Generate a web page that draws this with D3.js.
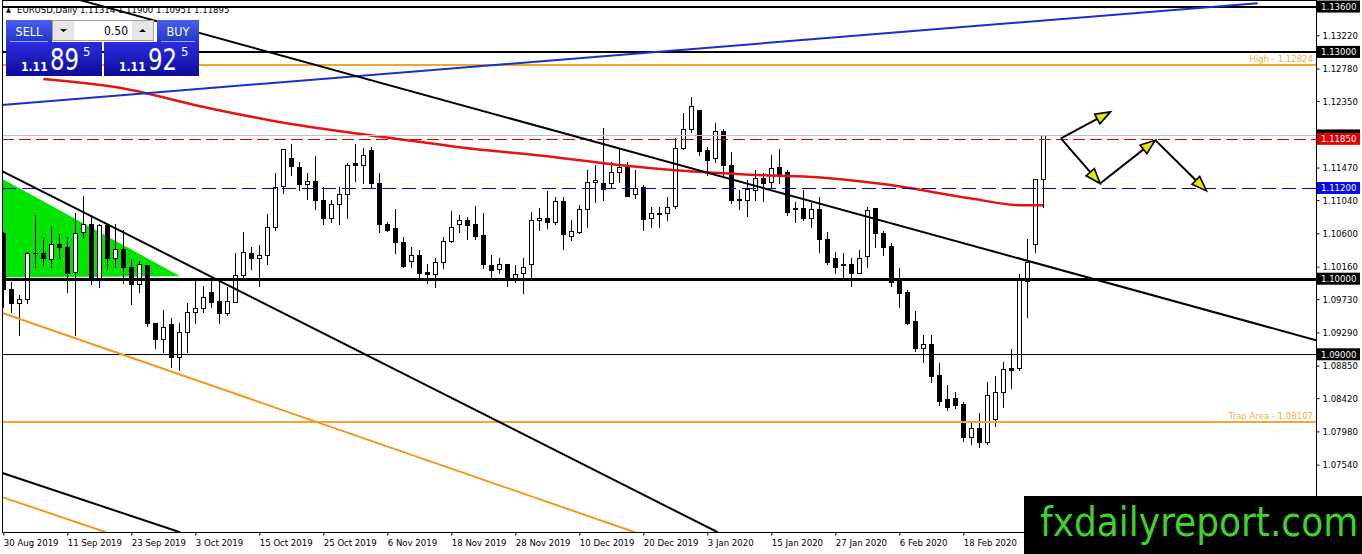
<!DOCTYPE html>
<html><head><meta charset="utf-8">
<script src="https://cdn.jsdelivr.net/npm/d3@7/dist/d3.min.js"></script>
<style>
html,body{margin:0;padding:0;background:#fff;overflow:hidden}
svg{display:block}
text{font-family:"DejaVu Sans Condensed","DejaVu Sans",sans-serif}
</style></head><body>
<svg id="c" width="1362" height="554"></svg>
<script>
// ---------------- DATA ----------------
const symbolTitle = "EURUSD,Daily";
const headerOHLC = ["1.11314","1.11900","1.10951","1.11895"];
const opens = [1.1060,1.0987,1.0968,1.0973,1.1034,1.1034,1.1026,1.1046,1.1042,1.1009,
1.1062,1.1073,1.1001,1.1071,1.1027,1.1039,1.1015,1.0993,1.1018,1.0941,
1.0920,1.0940,1.0896,1.0929,1.0956,1.0961,1.0982,1.0970,1.0954,1.0969,
1.1005,1.1034,1.1027,1.1031,1.1069,1.1122,1.1159,1.1148,1.1125,1.1129,
1.1104,1.1080,1.1099,1.1112,1.1153,1.1151,1.1170,1.1126,1.1073,1.1067,
1.1048,1.1024,1.1032,1.1009,1.1006,1.1022,1.1050,1.1072,1.1077,1.1073,
1.1058,1.1018,1.1013,1.1019,1.0998,1.1007,1.1020,1.1077,1.1080,1.1075,
1.1103,1.1056,1.1062,1.1092,1.1128,1.1126,1.1126,1.1141,1.1148,1.1112,
1.1121,1.1080,1.1087,1.1087,1.1096,1.1173,1.1198,1.1223,1.1170,1.1159,
1.1195,1.1151,1.1105,1.1104,1.1117,1.1133,1.1128,1.1148,1.1141,1.1093,
1.1093,1.1080,1.1092,1.1052,1.1027,1.1018,1.1020,1.1007,1.1030,1.1093,
1.1060,1.1043,1.0999,1.0982,1.0944,1.0908,1.0913,1.0872,1.0841,1.0842,
1.0834,1.0790,1.0803,1.0784,1.0814,1.0850,1.0882,1.0882,1.0997,1.1046,
1.11314];
const highs = [1.1062,1.0995,1.0978,1.1035,1.1084,1.1055,1.1068,1.1059,1.1055,1.1087,
1.1109,1.1084,1.1073,1.1073,1.1073,1.1065,1.1026,1.1024,1.1018,1.0942,
1.0958,1.0948,1.0942,1.0968,1.0999,1.0991,1.1002,1.1001,1.0989,1.1034,
1.1062,1.1042,1.1044,1.1085,1.1140,1.1171,1.1178,1.1155,1.1140,1.1162,
1.1121,1.1104,1.1121,1.1153,1.1178,1.1173,1.1174,1.1140,1.1075,1.1092,
1.1055,1.1042,1.1038,1.1019,1.1028,1.1055,1.1089,1.1084,1.1081,1.1096,
1.1087,1.1031,1.1027,1.1020,1.1018,1.1028,1.1088,1.1093,1.1116,1.1108,
1.1108,1.1077,1.1097,1.1144,1.1151,1.1199,1.1154,1.1173,1.1154,1.1144,
1.1124,1.1095,1.1095,1.1108,1.1186,1.1219,1.1240,1.1223,1.1174,1.1206,
1.1198,1.1167,1.1117,1.1130,1.1144,1.1140,1.1163,1.1171,1.1144,1.1101,
1.1117,1.1100,1.1108,1.1062,1.1035,1.1034,1.1027,1.1038,1.1095,1.1093,
1.1063,1.1047,1.1014,1.0985,1.0957,1.0925,1.0925,1.0888,1.0860,1.0850,
1.0837,1.0810,1.0822,1.0863,1.0871,1.0890,1.0907,1.1006,1.1052,1.1132,
1.11900];
const lows = [1.0962,1.0956,1.0925,1.0968,1.1015,1.1018,1.1015,1.1028,1.0983,1.0925,
1.1054,1.0993,1.0989,1.1014,1.1015,1.0994,1.0966,1.0982,1.0937,1.0908,
1.0903,1.0883,1.0879,1.0903,1.0941,1.0956,1.0962,1.0941,1.0952,1.0969,
1.1002,1.1013,1.0991,1.1020,1.1064,1.1114,1.1137,1.1117,1.1105,1.1092,
1.1072,1.1075,1.1073,1.1080,1.1129,1.1126,1.1121,1.1062,1.1063,1.1034,
1.1015,1.1015,1.1001,1.0994,1.0989,1.1014,1.1048,1.1062,1.1052,1.1052,
1.1014,1.1002,1.1007,1.0991,1.0995,1.0981,1.1001,1.1065,1.1067,1.1073,
1.1039,1.1051,1.1060,1.1068,1.1101,1.1104,1.1121,1.1128,1.1109,1.1107,
1.1065,1.1068,1.1068,1.1077,1.1093,1.1171,1.1194,1.1163,1.1137,1.1155,
1.1134,1.1100,1.1092,1.1083,1.1104,1.1103,1.1120,1.1126,1.1084,1.1075,
1.1077,1.1068,1.1035,1.1020,1.1007,1.0998,1.0991,1.1007,1.1015,1.1042,
1.1031,1.0991,1.0962,1.0940,1.0904,1.0890,1.0863,1.0833,1.0826,1.0829,
1.0785,1.0782,1.0777,1.0782,1.0805,1.0830,1.0855,1.0879,1.0949,1.1035,
1.10951];
const closes = [1.0987,1.0968,1.0973,1.1034,1.1034,1.1027,1.1046,1.1042,1.1007,1.1060,
1.1072,1.1001,1.1071,1.1027,1.1039,1.1015,1.0993,1.1019,1.0941,1.0920,
1.0936,1.0896,1.0929,1.0956,1.0961,1.0976,1.0969,1.0954,1.0970,1.1005,
1.1035,1.1027,1.1031,1.1069,1.1121,1.1171,1.1149,1.1125,1.1129,1.1104,
1.1080,1.1099,1.1112,1.1151,1.1151,1.1163,1.1126,1.1073,1.1064,1.1048,
1.1017,1.1032,1.1007,1.1006,1.1022,1.1050,1.1069,1.1077,1.1071,1.1056,
1.1020,1.1011,1.1019,1.0998,1.1006,1.1015,1.1077,1.1080,1.1075,1.1103,
1.1059,1.1063,1.1092,1.1128,1.1130,1.1118,1.1141,1.1148,1.1110,1.1120,
1.1079,1.1087,1.1085,1.1095,1.1173,1.1198,1.1228,1.1169,1.1157,1.1195,
1.1150,1.1104,1.1104,1.1118,1.1133,1.1126,1.1146,1.1137,1.1088,1.1092,
1.1080,1.1092,1.1052,1.1022,1.1015,1.1020,1.1007,1.1028,1.1091,1.1060,
1.1042,1.0995,1.0981,1.0942,1.0908,1.0913,1.0871,1.0838,1.0830,1.0833,
1.0790,1.0803,1.0784,1.0846,1.0850,1.0880,1.0879,1.0998,1.1022,1.1132,
1.11895];
const dateLabels = ["30 Aug 2019","11 Sep 2019","23 Sep 2019","3 Oct 2019","15 Oct 2019","25 Oct 2019",
"6 Nov 2019","18 Nov 2019","28 Nov 2019","10 Dec 2019","20 Dec 2019","3 Jan 2020","15 Jan 2020",
"27 Jan 2020","6 Feb 2020","18 Feb 2020"];
const barsPerLabel = 8;
const priceTicks = [1.1322,1.1278,1.1235,1.1147,1.1104,1.1060,1.1016,1.0973,1.0929,1.0885,1.0842,1.0798,1.0754];
// moving average (bar index, price)
const maIndex = [5,15.5,24.6,33.3,50.5,57,69,77.3,84,95.2,101.8,110.2,120.8,127.1,130];
const maValue = [1.12640,1.12507,1.12282,1.12097,1.11832,1.11740,1.11608,1.11502,1.11436,1.11369,1.11343,1.11250,1.11065,1.10972,1.10972];
// horizontal levels
const blackLevels = [1.13600,1.13000,1.10000,1.09000];
const highLevel = 1.12824;
const trapLevel = 1.08107;
const redLevel = 1.11850;
const blueLevel = 1.11200;
const bidPrice = 1.11895;
// trend lines: [barIndex, price]
const blueTrend = [[-0.41,1.12296],[156.8,1.13645]];
const blackTrendUpper = [[9.6,1.13685],[164.1,1.09186]];
const blackTrendLower = [[-0.41,1.11436],[89.3,1.06646]];
const blackTrendBottom = [[-0.41,1.07440],[22.1,1.06646]];
const orangeTrend = [[-0.41,1.09557],[78.96,1.06646]];
const orangeTrendBottom = [[-0.41,1.07122],[12.84,1.06646]];
const greenTriangle = [[-0.3,1.11330],[-0.3,1.10020],[22.1,1.10033]];
const arrowUp = [[132.2,1.11855],[138.4,1.12207]];
const arrowZig = [[132.2,1.11855],[137.1,1.11260],[144.0,1.11833],[150.4,1.11162]];
// one-click panel
const lotSize = "0.50";
const sellQuote = ["1.11","89","5"];
const buyQuote = ["1.11","92","5"];
const watermark = "fxdailyreport.com";

// ---------------- DRAW ----------------
const W = 1362, H = 554;
const plot = {left:2, right:1316, top:0, bottom:532};
const x = d3.scaleLinear().domain([0,130]).range([3.3,1043.3]);
const y = d3.scaleLinear().domain([1.09,1.13]).range([354.3,51.9]);
const svg = d3.select('#c');
svg.append('rect').attr('width',W).attr('height',H).attr('fill','#fff');
const defs = svg.append('defs');
defs.append('clipPath').attr('id','clip').append('rect')
  .attr('x',plot.left).attr('y',plot.top).attr('width',plot.right-plot.left).attr('height',plot.bottom-plot.top);
const g = svg.append('g').attr('clip-path','url(#clip)');
const line = d3.line().x(d=>x(d[0])).y(d=>y(d[1]));

// green triangle (background)
g.append('path').attr('d', line(greenTriangle)+'Z').attr('fill','#00e400');

// candles
const bars = d3.range(opens.length).map(i=>({i,o:opens[i],h:highs[i],l:lows[i],c:closes[i]}));
const cg = g.append('g');
bars.forEach(b=>{
  const cx = Math.round(x(b.i))+0.5;
  cg.append('line').attr('x1',cx).attr('x2',cx)
    .attr('y1',Math.round(y(b.h))).attr('y2',Math.round(y(b.l))+1)
    .attr('stroke','#000').attr('stroke-width',1);
  const top = Math.round(y(Math.max(b.o,b.c))), bot = Math.round(y(Math.min(b.o,b.c)));
  if (bot-top < 1) {
    cg.append('line').attr('x1',cx-2.5).attr('x2',cx+2.5).attr('y1',top+0.5).attr('y2',top+0.5)
      .attr('stroke','#000').attr('stroke-width',1);
  } else {
    cg.append('rect').attr('x',cx-2).attr('y',top+0.5).attr('width',4).attr('height',bot-top)
      .attr('fill', b.c>=b.o ? '#fff' : '#000').attr('stroke','#000').attr('stroke-width',1);
  }
});

// moving average
g.append('path').datum(maIndex.map((d,k)=>[d,maValue[k]]))
  .attr('d', d3.line().x(d=>x(d[0])).y(d=>y(d[1])).curve(d3.curveMonotoneX))
  .attr('fill','none').attr('stroke','#e31414').attr('stroke-width',2.5);

// horizontal levels
function hline(p, color, w, dash){
  const yy = w%2===1 ? Math.round(y(p))+0.5 : Math.round(y(p));
  const l = g.append('line').attr('x1',plot.left).attr('x2',plot.right).attr('y1',yy).attr('y2',yy)
    .attr('stroke',color).attr('stroke-width',w);
  if (dash) l.attr('stroke-dasharray',dash);
}
hline(bidPrice,'#c0c0c0',1);
hline(redLevel,'#e00000',1,'12,5');
hline(blueLevel,'#0000c8',1,'14,6');
hline(highLevel,'#f4a52a',2);
hline(trapLevel,'#f4a52a',2);
hline(blackLevels[0],'#000',2);
hline(blackLevels[1],'#000',2);
hline(blackLevels[2],'#000',3);
hline(blackLevels[3],'#000',1);

// trend lines
const tl = (d,c,w)=>g.append('path').attr('d',line(d)).attr('fill','none').attr('stroke',c).attr('stroke-width',w);
tl(blueTrend,'#1a2fc8',2);
tl(blackTrendUpper,'#000',2);
tl(blackTrendLower,'#000',2);
tl(blackTrendBottom,'#000',2);
tl(orangeTrend,'#f39a1e',2);
tl(orangeTrendBottom,'#f39a1e',2);

// level labels
g.append('text').attr('x',plot.right-3).attr('y',y(highLevel)-3).attr('text-anchor','end')
  .attr('font-size',9.5).attr('fill','#f2ae4a').text('High - '+highLevel.toFixed(5));
g.append('text').attr('x',plot.right-3).attr('y',y(trapLevel)-3).attr('text-anchor','end')
  .attr('font-size',9.5).attr('fill','#f2ae4a').text('Trap Area - '+trapLevel.toFixed(5));

// arrows
function arrowSeg(a,b){
  const p1=[x(a[0]),y(a[1])], p2=[x(b[0]),y(b[1])];
  const dx=p2[0]-p1[0], dy=p2[1]-p1[1], len=Math.hypot(dx,dy);
  const ux=dx/len, uy=dy/len, nx=-uy, ny=ux;
  const L=15, Wd=5.5;
  const base=[p2[0]-ux*L, p2[1]-uy*L];
  g.append('line').attr('x1',p1[0]).attr('y1',p1[1]).attr('x2',base[0]).attr('y2',base[1])
    .attr('stroke','#000').attr('stroke-width',2);
  g.append('path').attr('d',`M${p2[0]},${p2[1]}L${base[0]+nx*Wd},${base[1]+ny*Wd}L${base[0]-nx*Wd},${base[1]-ny*Wd}Z`)
    .attr('fill','#e6e600').attr('stroke','#000').attr('stroke-width',1.6).attr('stroke-linejoin','miter');
}
arrowSeg(arrowUp[0],arrowUp[1]);
for (let k=0;k<arrowZig.length-1;k++) arrowSeg(arrowZig[k],arrowZig[k+1]);

// frame
svg.append('rect').attr('x',plot.left+0.5).attr('y',0.5).attr('width',plot.right-plot.left).attr('height',plot.bottom)
  .attr('fill','none').attr('stroke','#000').attr('stroke-width',1);

// right axis
const ax = svg.append('g').attr('transform',`translate(${plot.right+0.5},0)`)
  .call(d3.axisRight(y).tickValues(priceTicks).tickFormat(d3.format('.5f')).tickSize(3).tickPadding(3));
ax.select('.domain').remove();
ax.selectAll('line').attr('stroke','#000');
ax.selectAll('text').attr('font-size',9.5).attr('fill','#000').attr('font-family','"DejaVu Sans Condensed","DejaVu Sans",sans-serif');
svg.append('line').attr('x1',plot.right+0.5).attr('x2',plot.right+0.5).attr('y1',0).attr('y2',plot.bottom+1)
  .attr('stroke','#000');

function priceBox(p, bg, withText){
  const yy = y(p);
  svg.append('rect').attr('x',plot.right+1).attr('y',yy-6).attr('width',43).attr('height',12).attr('fill',bg);
  if (withText === false) return;
  svg.append('text').attr('x',plot.right+5).attr('y',yy).attr('dy','0.35em').attr('font-size',9.5)
    .attr('fill','#fff').text(p.toFixed(5));
}
blackLevels.forEach(p=>priceBox(p,'#000'));
priceBox(bidPrice,'#000',false); // bid label, almost fully covered by the red level label
priceBox(redLevel,'#e00000');
priceBox(blueLevel,'#0a0ae6');

// bottom axis
const bx = svg.append('g').attr('transform',`translate(0,${plot.bottom+0.5})`)
  .call(d3.axisBottom(x).tickValues(dateLabels.map((d,k)=>k*barsPerLabel))
    .tickFormat((d,k)=>dateLabels[k]).tickSize(3).tickPadding(4));
bx.select('.domain').remove();
bx.selectAll('line').attr('stroke','#000');
bx.selectAll('text').attr('text-anchor','start').attr('x',0).attr('font-size',9.5).attr('fill','#000')
  .attr('font-family','"DejaVu Sans Condensed","DejaVu Sans",sans-serif');

// header
svg.append('text').attr('x',6).attr('y',12).attr('font-size',7).attr('fill','#000').text('▲');
svg.append('text').attr('x',17).attr('y',13).attr('font-size',9.5).attr('fill','#000')
  .text(symbolTitle+'  '+headerOHLC.join(' '));

// one-click trading panel
const gr1 = defs.append('linearGradient').attr('id','btn').attr('x1',0).attr('x2',0).attr('y1',0).attr('y2',1);
gr1.append('stop').attr('offset',0).attr('stop-color','#4a5ff0');
gr1.append('stop').attr('offset',1).attr('stop-color','#2236c8');
const gr2 = defs.append('linearGradient').attr('id','px').attr('x1',0).attr('x2',0).attr('y1',0).attr('y2',1);
gr2.append('stop').attr('offset',0).attr('stop-color','#2c2ce0');
gr2.append('stop').attr('offset',1).attr('stop-color','#0c0c9a');
const pg = svg.append('g');
function side(x0,w,labelX,labelW,label,q){
  pg.append('rect').attr('x',x0).attr('y',42).attr('width',w).attr('height',34).attr('fill','url(#px)');
  pg.append('rect').attr('x',labelX).attr('y',20).attr('width',labelW).attr('height',22).attr('fill','url(#btn)');
  pg.append('line').attr('x1',labelX+4).attr('x2',labelX+labelW-4).attr('y1',41.5).attr('y2',41.5).attr('stroke','#9aa8ff');
  pg.append('text').attr('x',labelX+labelW/2).attr('y',36).attr('text-anchor','middle').attr('font-size',12.5)
    .attr('fill','#fff').text(label);
  pg.append('text').attr('x',x0+15).attr('y',71).attr('font-size',12).attr('font-weight','bold')
    .attr('fill','#fff').attr('font-family','"Liberation Sans",Arial,sans-serif').text(q[0]);
  pg.append('text').attr('x',x0+44).attr('y',70).attr('font-size',30)
    .attr('fill','#fff').attr('font-family','"Liberation Sans",Arial,sans-serif')
    .attr('textLength',29).attr('lengthAdjust','spacingAndGlyphs').text(q[1]);
  pg.append('text').attr('x',x0+77).attr('y',56).attr('font-size',13)
    .attr('fill','#fff').attr('font-family','"Liberation Sans",Arial,sans-serif').text(q[2]);
}
side(6,96,6,46,'SELL',sellQuote);
side(104,95,157,42,'BUY',buyQuote);
// lot control
pg.append('rect').attr('x',52.5).attr('y',20.5).attr('width',101).attr('height',20).attr('fill','#fff').attr('stroke','#a0a0a0');
pg.append('rect').attr('x',53).attr('y',21).attr('width',21).attr('height',19).attr('fill','#e6e6e6');
pg.append('rect').attr('x',132).attr('y',21).attr('width',21).attr('height',19).attr('fill','#e6e6e6');
pg.append('path').attr('d','M60,29L67,29L63.5,32Z').attr('fill','#000');
pg.append('path').attr('d','M139,32L146,32L142.5,29Z').attr('fill','#000');
pg.append('text').attr('x',128).attr('y',35).attr('text-anchor','end').attr('font-size',12)
  .attr('fill','#000').text(lotSize);

// watermark
svg.append('rect').attr('x',1024).attr('y',496).attr('width',W-1024).attr('height',H-496).attr('fill','#000');
svg.append('text').attr('x',1040).attr('y',536).attr('font-size',40).attr('fill','#3ed22a')
  .attr('font-family','"Liberation Sans",Arial,sans-serif').text(watermark);
</script>
</body></html>
